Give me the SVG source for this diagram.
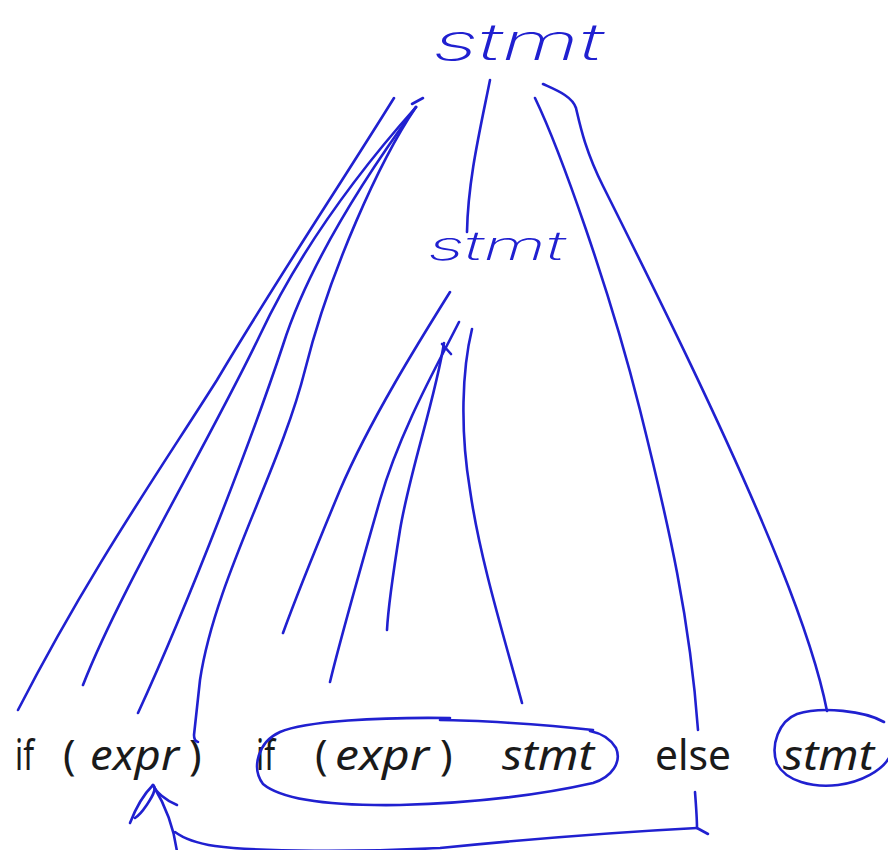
<svg xmlns="http://www.w3.org/2000/svg" width="888" height="850" viewBox="0 0 888 850">
<style>
.ink{fill:none;stroke:#2020d0;stroke-width:2.6;stroke-linecap:round;stroke-linejoin:round}
.hand{font-family:Inter,"Noto Sans","DejaVu Sans",sans-serif;font-style:italic;font-weight:200;fill:#2020d0}
.tok{font-family:"Noto Sans","Liberation Sans",sans-serif;font-size:42px;fill:#1a1a1a}
.it{font-style:italic}
</style>
<rect width="888" height="850" fill="#ffffff"/>
<g id="node-root-stmt">
<text class="hand" x="433" y="60" font-size="50" textLength="170" lengthAdjust="spacingAndGlyphs">stmt</text>
</g>
<g id="node-inner-stmt">
<text class="hand" x="428" y="260" font-size="40" textLength="137" lengthAdjust="spacingAndGlyphs">stmt</text>
</g>
<g id="node-if1"><text class="tok" x="15" y="770" textLength="19" lengthAdjust="spacingAndGlyphs">if</text></g>
<g id="node-lp1"><text class="tok" x="63" y="770">(</text></g>
<g id="node-expr1"><text class="tok it" x="90" y="770" textLength="89" lengthAdjust="spacingAndGlyphs">expr</text></g>
<g id="node-rp1"><text class="tok" x="189" y="770">)</text></g>
<g id="node-if2"><text class="tok" x="256" y="770" textLength="19" lengthAdjust="spacingAndGlyphs">if</text></g>
<g id="node-lp2"><text class="tok" x="315" y="770">(</text></g>
<g id="node-expr2"><text class="tok it" x="335" y="770" textLength="94" lengthAdjust="spacingAndGlyphs">expr</text></g>
<g id="node-rp2"><text class="tok" x="440" y="770">)</text></g>
<g id="node-stmt-inner"><text class="tok it" x="502" y="770" textLength="92" lengthAdjust="spacingAndGlyphs">stmt</text></g>
<g id="node-else"><text class="tok" x="655" y="770" textLength="76" lengthAdjust="spacingAndGlyphs">else</text></g>
<g id="node-stmt-else"><text class="tok it" x="783" y="770" textLength="91" lengthAdjust="spacingAndGlyphs">stmt</text></g>
<g id="connectors" class="ink">
<!-- root stmt to tokens -->
<path d="M394,98 C340,185 270,290 217,380 C160,470 90,570 18,710"/>
<path d="M412,104 L423,98"/>
<path d="M416,107 C360,170 300,250 260,335 C210,440 120,590 83,685"/>
<path d="M416,107 C370,170 310,260 283,345 C255,430 190,600 138,713"/>
<path d="M416,107 C380,160 330,270 305,370 C280,470 215,580 200,680 L194,735 Q194,741 198,742"/>
<path d="M490,80 C480,130 468,180 467,232"/>
<path d="M535,98 C560,150 610,290 640,410 C670,530 690,620 698,730"/>
<path d="M543,84 C556,90 572,96 576,108 C580,125 585,150 603,186 C650,280 730,440 780,565 C800,615 818,665 827,711"/>
<!-- inner stmt to tokens -->
<path d="M450,292 C420,340 370,420 340,490 C315,550 295,600 283,633"/>
<path d="M459,322 C440,360 400,430 380,500 C360,570 340,640 330,682"/>
<path d="M444,343 C435,400 410,470 400,530 C392,580 388,610 387,630"/>
<path d="M442,344 L451,354"/>
<path d="M472,329 C462,370 460,430 470,490 C480,560 505,640 522,703"/>
<!-- circled subtrees -->
<path d="M440,720 C470,720 540,724 593,730"/>
<path d="M450,718 C380,717 305,721 280,732 C258,742 251,768 263,784 C282,800 330,806 400,805 C470,803 540,795 593,783 C612,777 622,762 616,748 C610,738 600,733 590,731"/>
<path d="M884,722 C865,711 822,706 797,714 C779,721 770,745 777,764 C786,781 812,788 838,785 C862,782 882,770 889,758"/>
<!-- arrow from else back to expr -->
<path d="M695,792 C696,805 697,818 697,828 L708,834"/>
<path d="M697,828 C620,832 520,840 440,848 C360,852 260,852 215,846 C195,843 183,838 175,832"/>
<path d="M177,852 C175,835 168,810 153,785"/>
<path d="M130,823 C135,810 143,795 153,785 C158,789 150,800 146,806 C142,812 138,816 135,818"/>
<path d="M153,785 C156,792 165,800 177,805"/>
</g>
</svg>
